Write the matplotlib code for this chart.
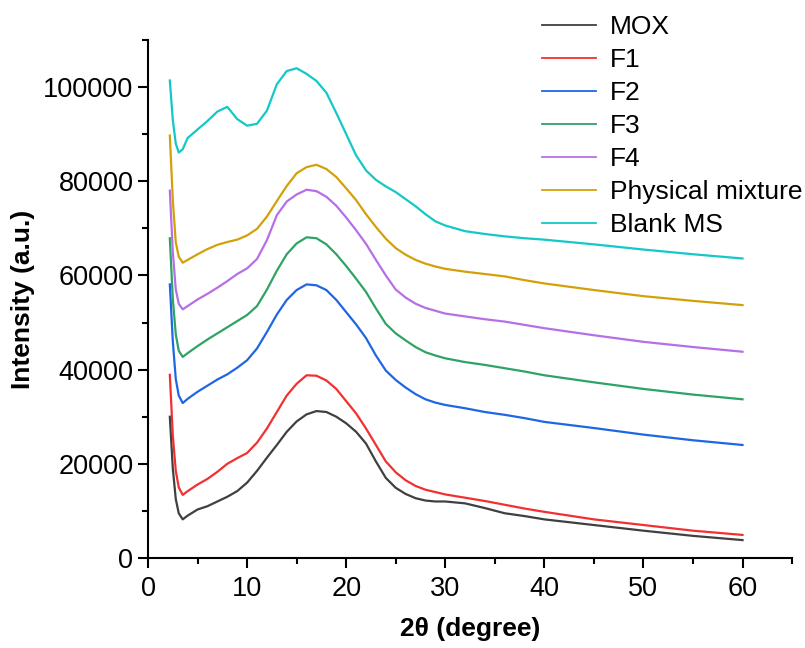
import matplotlib
matplotlib.use("Agg")
import matplotlib.pyplot as plt
from matplotlib.ticker import MultipleLocator

plt.rcParams['font.family'] = ['Liberation Sans', 'DejaVu Sans']

# 2theta positions (degree) shared by all patterns
two_theta = [2.2, 2.5, 2.8, 3.1, 3.5, 4, 5, 6, 7, 8, 9, 10, 11, 12, 13, 14, 15,
             16, 17, 18, 19, 20, 21, 22, 23, 24, 25, 26, 27, 28, 29, 30, 32, 34,
             36, 38, 40, 45, 50, 55, 60]

mox = [30000, 19000, 12500, 9500, 8200, 9000, 10300, 11000, 12000, 13000, 14200,
       16000, 18500, 21300, 24000, 26800, 29000, 30500, 31200, 31000, 30000,
       28600, 26800, 24300, 20500, 17000, 14900, 13600, 12700, 12200, 12000,
       12000, 11600, 10600, 9500, 8900, 8200, 7000, 5800, 4700, 3800]
f1 = [38900, 26000, 18500, 15000, 13400, 14200, 15600, 16800, 18300, 20000, 21200,
      22300, 24500, 27500, 31000, 34500, 37000, 38800, 38700, 37700, 35900,
      33300, 30700, 27500, 24000, 20500, 18200, 16500, 15300, 14500, 14000,
      13500, 12800, 12100, 11300, 10500, 9800, 8200, 7000, 5800, 4900]
f2 = [58100, 46000, 38000, 34500, 32900, 33800, 35300, 36600, 37900, 39000, 40400,
      42000, 44500, 48000, 51700, 54800, 56900, 58100, 57900, 56900, 54800,
      52200, 49600, 46700, 43000, 39800, 37800, 36200, 34800, 33700, 33000,
      32500, 31800, 31000, 30400, 29700, 28900, 27600, 26200, 25000, 24000]
f3 = [67900, 55000, 47500, 44000, 42700, 43500, 45000, 46400, 47700, 49000, 50300,
      51600, 53500, 57000, 61000, 64500, 66800, 68100, 67900, 66600, 64500,
      62000, 59300, 56500, 53000, 49700, 47700, 46200, 44800, 43700, 43000,
      42400, 41600, 41000, 40300, 39600, 38800, 37300, 35900, 34700, 33700]
f4 = [78000, 65000, 57000, 54000, 52800, 53500, 54900, 56100, 57400, 58800, 60300,
      61500, 63500, 67500, 72800, 75700, 77200, 78200, 77900, 76700, 74800,
      72300, 69600, 66700, 63300, 60000, 57000, 55300, 54000, 53100, 52500,
      51900, 51300, 50700, 50200, 49500, 48800, 47300, 45900, 44800, 43800]
phys_mix = [89700, 76000, 67000, 64000, 62700, 63300, 64500, 65600, 66500, 67100,
            67600, 68500, 69900, 72500, 75800, 79000, 81700, 83000, 83500, 82600,
            80900, 78500, 76000, 73000, 70300, 67800, 65800, 64400, 63300, 62500,
            61900, 61400, 60800, 60300, 59800, 59000, 58300, 56900, 55600, 54600,
            53700]
blank_ms = [101400, 93000, 88000, 86100, 86800, 89200, 91000, 92800, 94800, 95800,
            93200, 91800, 92200, 95000, 100600, 103400, 104000, 102800, 101300,
            98800, 94500, 90000, 85500, 82300, 80300, 78900, 77700, 76200, 74700,
            73000, 71500, 70600, 69400, 68800, 68300, 67900, 67600, 66600, 65500,
            64500, 63600]

series = [("MOX", mox, "#404040"),
          ("F1", f1, "#f23030"),
          ("F2", f2, "#1f66e5"),
          ("F3", f3, "#2ea366"),
          ("F4", f4, "#b76fe6"),
          ("Physical mixture", phys_mix, "#d4a00a"),
          ("Blank MS", blank_ms, "#14c8c8")]

fig = plt.figure(figsize=(8.05, 6.48), dpi=100)
ax = fig.add_axes([0.1839, 0.1389, 0.8, 0.7994])

for name, vals, col in series:
    ax.plot(two_theta, vals, color=col, lw=1.6, label=name)

ax.set_xlim(0, 65)
ax.set_ylim(0, 110000)
ax.xaxis.set_major_locator(MultipleLocator(10))
ax.xaxis.set_minor_locator(MultipleLocator(5))
ax.yaxis.set_major_locator(MultipleLocator(20000))
ax.yaxis.set_minor_locator(MultipleLocator(10000))

for side in ['top', 'right']:
    ax.spines[side].set_visible(False)
for side in ['left', 'bottom']:
    ax.spines[side].set_linewidth(1.5)

ax.tick_params(which='major', direction='out', length=7, width=1.5, labelsize=19.5)
ax.tick_params(axis='x', which='major', pad=6)
ax.tick_params(which='minor', direction='out', length=4, width=1.5)

ax.set_xlabel("2θ (degree)", fontsize=19, fontweight='bold', labelpad=11)
ax.set_ylabel("Intensity (a.u.)", fontsize=19, fontweight='bold', labelpad=6)

leg = ax.legend(loc='upper left', bbox_to_anchor=(542 / 805, 0.977),
                bbox_transform=fig.transFigure, frameon=False, fontsize=19,
                handlelength=2.05, handletextpad=0.53, labelspacing=0.34,
                borderpad=0, borderaxespad=0)
for line in leg.get_lines():
    line.set_linewidth(1.3)

plt.savefig("out.png", dpi=100)
plt.close()
